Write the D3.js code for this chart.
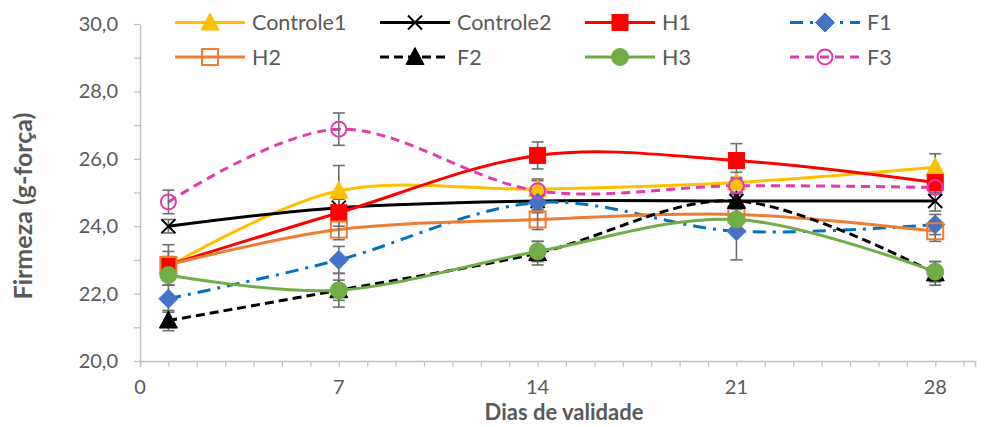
<!DOCTYPE html>
<html>
<head>
<meta charset="utf-8">
<script src="https://cdn.jsdelivr.net/npm/d3@7"></script>
<style>
  body { margin: 0; background: #fff; }
  svg text { font-family: Lato, "Liberation Sans", sans-serif; }
</style>
</head>
<body>
<div id="chart"></div>
<script>
// days of shelf life
const days = [1, 7, 14, 21, 28];
const seriesNames = ['Controle1', 'Controle2', 'H1', 'F1', 'H2', 'F2', 'H3', 'F3'];

// firmness (g-força) per series
const controle1 = [22.8, 25.05, 25.1, 25.3, 25.75];
const controle2 = [24.0, 24.55, 24.75, 24.75, 24.75];
const h1 = [22.85, 24.4, 26.1, 25.95, 25.3];
const f1 = [21.85, 23.0, 24.7, 23.85, 24.05];
const h2 = [22.85, 23.9, 24.2, 24.35, 23.85];
const f2 = [21.2, 22.1, 23.2, 24.75, 22.6];
const h3 = [22.55, 22.1, 23.25, 24.2, 22.65];
const f3 = [24.72, 26.88, 25.05, 25.2, 25.15];

// standard deviation bars
const errControle1 = [0.3, 0.75, 0.3, 0.3, 0.4];
const errControle2 = [0.2, 0.3, 0.3, 0.2, 0.3];
const errH1 = [0.6, 0.4, 0.4, 0.5, 0.3];
const errF1 = [0.4, 0.4, 0.3, 0.85, 0.3];
const errH2 = [0.4, 0.3, 0.3, 0.2, 0.3];
const errF2 = [0.3, 0.5, 0.35, 0.2, 0.35];
const errH3 = [0.3, 0.3, 0.3, 0.3, 0.3];
const errF3 = [0.35, 0.48, 0.3, 0.2, 0.2];

const yTicks = [20, 22, 24, 26, 28, 30];
const xTicks = [0, 7, 14, 21, 28];

const width = 987, height = 427;
const plotLeft = 140, plotRight = 975, plotTop = 24, plotBottom = 361;

const series = [
  { name: 'Controle1', values: controle1, err: errControle1, color: '#FFC000', dash: null, marker: 'triangle', mcolor: '#FFC000', fill: true },
  { name: 'Controle2', values: controle2, err: errControle2, color: '#000000', dash: null, marker: 'x', mcolor: '#000000', fill: false },
  { name: 'H1', values: h1, err: errH1, color: '#FF0000', dash: null, marker: 'square', mcolor: '#FF0000', fill: true },
  { name: 'F1', values: f1, err: errF1, color: '#0070C0', dash: '13,7,3,7', marker: 'diamond', mcolor: '#4472C4', fill: true },
  { name: 'H2', values: h2, err: errH2, color: '#ED7D31', dash: null, marker: 'square', mcolor: '#ED7D31', fill: false },
  { name: 'F2', values: f2, err: errF2, color: '#000000', dash: '9,5', marker: 'triangle', mcolor: '#000000', fill: true },
  { name: 'H3', values: h3, err: errH3, color: '#70AD47', dash: null, marker: 'circle', mcolor: '#70AD47', fill: true },
  { name: 'F3', values: f3, err: errF3, color: '#E03CAE', dash: '9,6', marker: 'circle', mcolor: '#E03CAE', fill: false }
];

const x = d3.scaleLinear().domain([0, 29.4]).range([plotLeft, plotRight]);
const y = d3.scaleLinear().domain([20, 30]).range([plotBottom, plotTop]);

const svg = d3.select('#chart').append('svg')
  .attr('width', width)
  .attr('height', height);

// axes
const axisColor = '#BFBFBF';
const xAxis = svg.append('g')
  .attr('transform', `translate(0,${plotBottom})`)
  .call(d3.axisBottom(x).tickValues(d3.range(0, 30)).tickSize(6).tickFormat(''));
xAxis.select('.domain').attr('stroke', axisColor).attr('stroke-width', 1.5);
xAxis.selectAll('.tick line').attr('stroke', axisColor).attr('stroke-width', 1.2);

const yAxis = svg.append('g')
  .attr('transform', `translate(${plotLeft},0)`)
  .call(d3.axisLeft(y).tickValues(d3.range(20, 31)).tickSize(6).tickSizeOuter(0).tickFormat(''));
yAxis.select('.domain').attr('stroke', axisColor).attr('stroke-width', 1.5);
yAxis.selectAll('.tick line').attr('stroke', axisColor).attr('stroke-width', 1.2);

svg.append('g').selectAll('text')
  .data(yTicks)
  .join('text')
  .attr('x', 118)
  .attr('y', d => y(d))
  .attr('dy', '0.35em')
  .attr('text-anchor', 'end')
  .attr('fill', '#595959')
  .style('font-size', '20px')
  .text(d => d.toFixed(1).replace('.', ','));

svg.append('g').selectAll('text')
  .data(xTicks)
  .join('text')
  .attr('x', d => x(d))
  .attr('y', 394)
  .attr('text-anchor', 'middle')
  .attr('fill', '#595959')
  .style('font-size', '20px')
  .text(d => d);

svg.append('text')
  .attr('x', 564)
  .attr('y', 420)
  .attr('text-anchor', 'middle')
  .attr('fill', '#595959')
  .style('font-size', '22px')
  .style('font-weight', 'bold')
  .text('Dias de validade');

svg.append('text')
  .attr('transform', 'translate(23,206) rotate(-90)')
  .attr('dy', '0.35em')
  .attr('text-anchor', 'middle')
  .attr('fill', '#595959')
  .style('font-size', '25px')
  .style('font-weight', 'bold')
  .text('Firmeza (g-força)');

// markers
function drawMarker(g, s, cx, cy) {
  const stroke = s.mcolor;
  const fill = s.fill ? s.mcolor : 'none';
  if (s.marker === 'triangle') {
    g.append('path')
      .attr('d', `M${cx},${cy - 9.5}L${cx + 9},${cy + 7.5}L${cx - 9},${cy + 7.5}Z`)
      .attr('fill', fill).attr('stroke', stroke).attr('stroke-width', 1);
  } else if (s.marker === 'square') {
    g.append('rect')
      .attr('x', cx - 8).attr('y', cy - 8)
      .attr('width', 16).attr('height', 16)
      .attr('fill', fill).attr('stroke', stroke).attr('stroke-width', s.fill ? 1 : 2);
  } else if (s.marker === 'diamond') {
    g.append('path')
      .attr('d', `M${cx},${cy - 9.5}L${cx + 9.5},${cy}L${cx},${cy + 9.5}L${cx - 9.5},${cy}Z`)
      .attr('fill', fill).attr('stroke', stroke).attr('stroke-width', 1);
  } else if (s.marker === 'circle') {
    g.append('circle')
      .attr('cx', cx).attr('cy', cy).attr('r', s.fill ? 8.5 : 7.5)
      .attr('fill', fill).attr('stroke', stroke).attr('stroke-width', s.fill ? 1 : 2);
  } else if (s.marker === 'x') {
    g.append('path')
      .attr('d', `M${cx - 7},${cy - 7}L${cx + 7},${cy + 7}M${cx + 7},${cy - 7}L${cx - 7},${cy + 7}`)
      .attr('stroke', stroke).attr('stroke-width', 2);
  }
}

const line = d3.line()
  .x((d, i) => x(days[i]))
  .y(d => y(d))
  .curve(d3.curveCardinal.tension(0));

// lines
const lineLayer = svg.append('g');
series.forEach(s => {
  lineLayer.append('path')
    .datum(s.values)
    .attr('d', line)
    .attr('fill', 'none')
    .attr('stroke', s.color)
    .attr('stroke-width', 3)
    .attr('stroke-dasharray', s.dash);
});

// error bars
const errLayer = svg.append('g').attr('stroke', '#6E6E6E').attr('stroke-width', 1.6);
series.forEach(s => {
  s.values.forEach((v, i) => {
    const cx = x(days[i]);
    const y1 = y(v + s.err[i]), y2 = y(v - s.err[i]);
    errLayer.append('line').attr('x1', cx).attr('x2', cx).attr('y1', y1).attr('y2', y2);
    errLayer.append('line').attr('x1', cx - 6).attr('x2', cx + 6).attr('y1', y1).attr('y2', y1);
    errLayer.append('line').attr('x1', cx - 6).attr('x2', cx + 6).attr('y1', y2).attr('y2', y2);
  });
});

const markerLayer = svg.append('g');
series.forEach(s => {
  s.values.forEach((v, i) => drawMarker(markerLayer, s, x(days[i]), y(v)));
});

// legend
const legendCols = [175, 380, 585, 790];
const legendRows = [22.5, 57];
const legend = svg.append('g');
series.forEach((s, i) => {
  const lx = legendCols[i % 4];
  const ly = legendRows[Math.floor(i / 4)];
  const g = legend.append('g');
  g.append('line')
    .attr('x1', lx).attr('x2', lx + 70)
    .attr('y1', ly).attr('y2', ly)
    .attr('stroke', s.color)
    .attr('stroke-width', 3)
    .attr('stroke-dasharray', s.dash);
  drawMarker(g, s, lx + 35, ly);
  g.append('text')
    .attr('x', lx + 77)
    .attr('y', ly)
    .attr('dy', '0.35em')
    .attr('fill', '#595959')
    .style('font-size', '21.5px')
    .text(s.name);
});
</script>
</body>
</html>
